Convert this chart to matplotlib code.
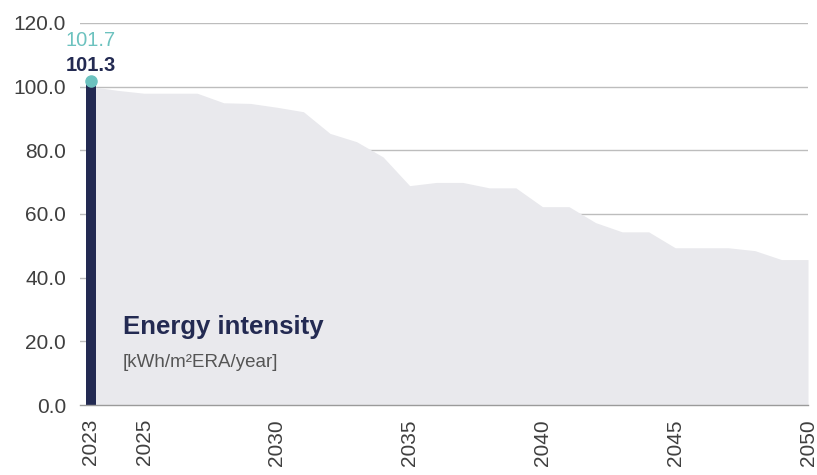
import matplotlib
matplotlib.use("Agg")
import matplotlib.pyplot as plt
import numpy as np

plt.rcParams['font.family'] = ['Liberation Sans', 'DejaVu Sans']

# pathway (grey area), one value per year
years = list(range(2023, 2051))
pathway = [100.0, 98.8, 97.9, 97.9, 97.9, 94.9, 94.7, 93.5, 92.1, 85.3,
           82.7, 77.9, 68.9, 69.9, 69.9, 68.2, 68.2, 62.3, 62.3, 57.3,
           54.4, 54.4, 49.4, 49.4, 49.4, 48.5, 45.7, 45.7]

# actual value (bar) and target point for the base year
bar_year = 2023
bar_value = 101.3
point_value = 101.7

tick_years = [2023, 2025, 2030, 2035, 2040, 2045, 2050]
y_ticks = [0, 20, 40, 60, 80, 100, 120]

c_navy = "#232a52"
c_teal = "#6cc2bf"
c_area = "#e9e9ed"
c_grid = "#bdbdbd"
c_text = "#3f3f3f"

fig = plt.figure(figsize=(8.17, 4.75), dpi=100)
ax = fig.add_axes([0.098, 0.147, 0.891, 0.805])

for yv in y_ticks[1:]:
    ax.axhline(yv, color=c_grid, linewidth=1.0, zorder=1)

ax.fill_between(years, 0, pathway, color=c_area, linewidth=0, zorder=2)
ax.bar([bar_year], [bar_value], width=0.38, color=c_navy, zorder=3)
ax.plot([bar_year], [point_value], marker="o", markersize=8, color=c_teal,
        linestyle="none", zorder=4, clip_on=False)

ax.text(bar_year, 114.5, f"{point_value:.1f}", color=c_teal, fontsize=14.5,
        ha="center", va="center")
ax.text(bar_year, 106.5, f"{bar_value:.1f}", color=c_navy, fontsize=14.5,
        ha="center", va="center", fontweight="bold")

ax.text(2024.2, 24.5, "Energy intensity", color=c_navy, fontsize=18.5,
        fontweight="bold", ha="left", va="center")
ax.text(2024.2, 13.5, "[kWh/m\u00b2ERA/year]", color="#555555", fontsize=13.5,
        ha="left", va="center")

ax.set_xlim(2022.59, 2050.0)
ax.set_ylim(0, 120)
ax.set_yticks(y_ticks)
ax.set_yticklabels([f"{v:.1f}" for v in y_ticks])
ax.set_xticks(tick_years)
ax.set_xticklabels([str(y) for y in tick_years], rotation=90)
ax.tick_params(axis="both", length=0, labelsize=15, colors=c_text)
ax.tick_params(axis="y", pad=10)
ax.tick_params(axis="x", pad=10)

for side in ["top", "right", "left"]:
    ax.spines[side].set_visible(False)
ax.spines["bottom"].set_color("#9a9a9a")
ax.spines["bottom"].set_linewidth(1.0)
ax.spines["bottom"].set_zorder(5)

fig.savefig("out.png", dpi=100)
